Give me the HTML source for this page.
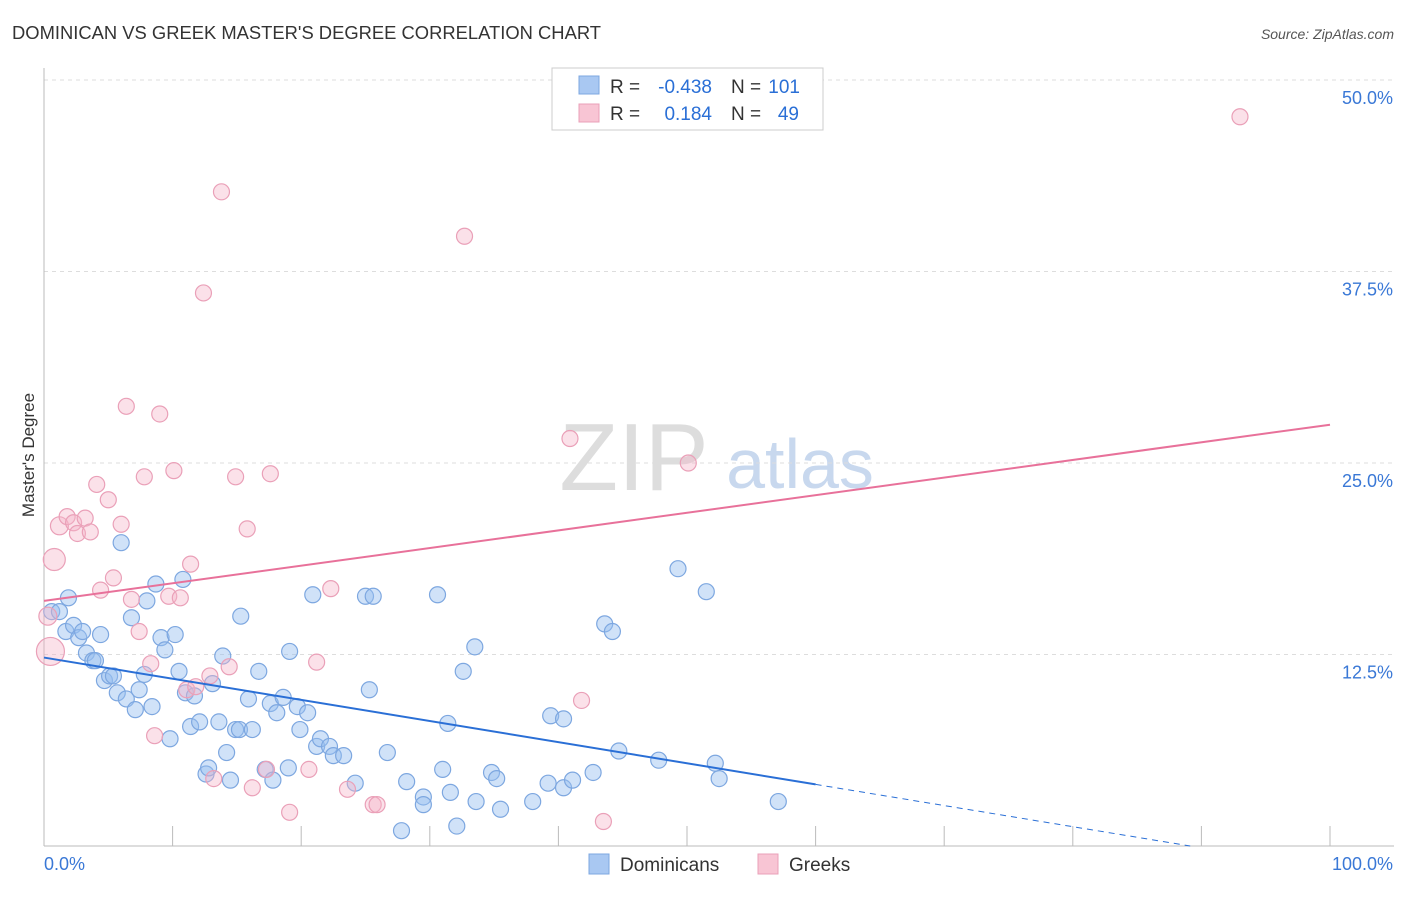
<!DOCTYPE html>
<html><head><meta charset="utf-8"><style>
body{margin:0;background:#fff;font-family:"Liberation Sans",sans-serif;}
svg text{font-family:"Liberation Sans",sans-serif;}
</style></head><body>
<svg id="chart" width="1406" height="892" xmlns="http://www.w3.org/2000/svg">
<text x="12" y="39" font-size="18" fill="#333" textLength="589" lengthAdjust="spacingAndGlyphs">DOMINICAN VS GREEK MASTER'S DEGREE CORRELATION CHART</text>
<text x="1394" y="39" font-size="14" fill="#555" font-style="italic" text-anchor="end">Source: ZipAtlas.com</text>
<g><text x="634" y="490" font-size="96" fill="#ddd" font-family="Liberation Serif" text-anchor="middle">ZIP</text><text x="800" y="488" font-size="70" fill="#c8d8ee" text-anchor="middle">atlas</text></g>
<g id="grid"></g><g id="axes"></g><g id="pts"></g><g id="trends"></g>
<text transform="translate(34,455) rotate(-90)" font-size="17" fill="#333" text-anchor="middle">Master's Degree</text>
<g>
<rect x="552" y="68" width="271" height="62" fill="#fff" stroke="#ccc"/>
<rect x="579" y="76" width="20" height="18" fill="#a9c8f2" stroke="#7da7e0"/>
<rect x="579" y="104" width="20" height="18" fill="#f8c5d4" stroke="#eaa0b8"/>
<text x="610" y="93" font-size="19" fill="#333">R =</text>
<text x="712" y="93" font-size="19" fill="#2a6fd6" text-anchor="end">-0.438</text>
<text x="731" y="93" font-size="19" fill="#333">N =</text>
<text x="800" y="93" font-size="19" fill="#2a6fd6" text-anchor="end">101</text>
<text x="610" y="120" font-size="19" fill="#333">R =</text>
<text x="712" y="120" font-size="19" fill="#2a6fd6" text-anchor="end">0.184</text>
<text x="731" y="120" font-size="19" fill="#333">N =</text>
<text x="799" y="120" font-size="19" fill="#2a6fd6" text-anchor="end">49</text>
</g>
<g>
<rect x="589" y="854" width="20" height="20" fill="#a9c8f2" stroke="#7da7e0"/>
<text x="620" y="871" font-size="19" fill="#333">Dominicans</text>
<rect x="758" y="854" width="20" height="20" fill="#f8c5d4" stroke="#eaa0b8"/>
<text x="789" y="871" font-size="19" fill="#333">Greeks</text>
</g>
</svg>
<script>
const yTicks=[12.5,25,37.5,50];
const yTickLabels=["12.5%","25.0%","37.5%","50.0%"];
const xTickCount=10;
const blueX=[0.6,1.2,1.9,1.7,2.3,2.7,3.0,3.3,3.8,4.0,4.4,4.7,5.1,5.4,5.7,6.0,6.4,6.8,7.1,7.4,7.8,8.0,8.4,8.7,9.1,9.4,9.8,10.2,10.5,10.8,11.0,11.4,11.7,12.1,12.6,12.8,13.1,13.6,13.9,14.2,14.5,14.9,15.3,15.2,15.9,16.2,16.7,17.2,17.8,17.6,18.1,18.6,19.0,19.1,19.7,19.9,20.5,20.9,21.2,21.5,22.2,22.5,23.3,24.2,25.0,25.3,25.6,26.7,27.8,28.2,29.5,29.5,30.6,31.0,31.4,31.6,32.1,32.6,33.5,33.6,34.8,35.2,35.5,38.0,39.2,39.4,40.4,40.4,41.1,42.7,43.6,44.2,44.7,47.8,49.3,51.5,52.2,52.5,57.1];
const blueY=[15.3,15.3,16.2,14.0,14.4,13.6,14.0,12.6,12.1,12.1,13.8,10.8,11.1,11.1,10.0,19.8,9.6,14.9,8.9,10.2,11.2,16.0,9.1,17.1,13.6,12.8,7.0,13.8,11.4,17.4,10.0,7.8,9.8,8.1,4.7,5.1,10.6,8.1,12.4,6.1,4.3,7.6,15.0,7.6,9.6,7.6,11.4,5.0,4.3,9.3,8.7,9.7,5.1,12.7,9.1,7.6,8.7,16.4,6.5,7.0,6.5,5.9,5.9,4.1,16.3,10.2,16.3,6.1,1.0,4.2,3.2,2.7,16.4,5.0,8.0,3.5,1.3,11.4,13.0,2.9,4.8,4.4,2.4,2.9,4.1,8.5,8.3,3.8,4.3,4.8,14.5,14.0,6.2,5.6,18.1,16.6,5.4,4.4,2.9];
const pinkX=[0.8,0.5,0.3,1.2,1.8,2.3,2.6,3.2,3.6,4.1,4.4,5.0,5.4,6.0,6.4,6.8,7.4,7.8,8.3,8.6,9.0,9.7,10.1,10.6,11.1,11.4,11.8,12.4,12.9,13.2,13.8,14.4,14.9,15.8,16.2,17.3,17.6,19.1,20.6,21.2,22.3,23.6,25.6,25.9,32.7,40.9,41.8,43.5,50.1,93.0];
const pinkY=[18.7,12.7,15.0,20.9,21.5,21.1,20.4,21.4,20.5,23.6,16.7,22.6,17.5,21.0,28.7,16.1,14.0,24.1,11.9,7.2,28.2,16.3,24.5,16.2,10.2,18.4,10.4,36.1,11.1,4.4,42.7,11.7,24.1,20.7,3.8,5.0,24.3,2.2,5.0,12.0,16.8,3.7,2.7,2.7,39.8,26.6,9.5,1.6,25.0,47.6];
const pinkR=[11,14,9,9,8,8,8,8,8,8,8,8,8,8,8,8,8,8,8,8,8,8,8,8,8,8,8,8,8,8,8,8,8,8,8,8,8,8,8,8,8,8,8,8,8,8,8,8,8,8];
const blueTrend=[12.3,-0.138];
const pinkTrend=[16.0,0.115];
const X0=44,X1=1330,Y0=846,YS=(846-80)/50;
const sx=v=>X0+(X1-X0)*v/100, sy=v=>Y0-v*YS;
const NS="http://www.w3.org/2000/svg";
function mk(t,a,p){const e=document.createElementNS(NS,t);for(const k in a)e.setAttribute(k,a[k]);document.getElementById(p).appendChild(e);return e;}
yTicks.forEach((t,i)=>{
 const g=mk('line',{x1:X0,x2:1394,y1:sy(t),y2:sy(t),stroke:'#ddd','stroke-dasharray':'4,4'},'grid');
 
 
 const l=mk('text',{x:1393,y:sy(t)+24,'font-size':18,fill:'#3a78d6','text-anchor':'end'},'axes');l.textContent=yTickLabels[i];
 
 
});
mk('line',{x1:X0,x2:X0,y1:68,y2:Y0,stroke:'#bbb'},'axes');
mk('line',{x1:X0,x2:1394,y1:Y0,y2:Y0,stroke:'#bbb'},'axes');
for(let i=0;i<=xTickCount;i++){const t=mk('line',{x1:sx(i*10),x2:sx(i*10),y1:Y0,y2:Y0-20,stroke:'#bbb'},'axes');
 
 }
let a=mk('text',{x:44,y:870,'font-size':18,fill:'#3a78d6'},'axes');a.textContent='0.0%';


a=mk('text',{x:1393,y:870,'font-size':18,fill:'#3a78d6','text-anchor':'end'},'axes');a.textContent='100.0%';


blueX.forEach((x,i)=>{const c=mk('circle',{cx:sx(x),cy:sy(blueY[i]),r:8,fill:'rgba(150,190,240,0.45)',stroke:'#7da7e0','stroke-width':1.2},'pts');
 
 });
pinkX.forEach((x,i)=>{const c=mk('circle',{cx:sx(x),cy:sy(pinkY[i]),r:pinkR[i],fill:'rgba(245,180,200,0.4)',stroke:'#eaa0b8','stroke-width':1.2},'pts');
 
 });
const bf=x=>blueTrend[0]+blueTrend[1]*x, pf=x=>pinkTrend[0]+pinkTrend[1]*x;
let l=mk('line',{x1:sx(0),y1:sy(bf(0)),x2:sx(60),y2:sy(bf(60)),stroke:'#2a6fd6','stroke-width':2},'trends');


const xe=-blueTrend[0]/blueTrend[1];
l=mk('line',{x1:sx(60),y1:sy(bf(60)),x2:sx(xe),y2:sy(0),stroke:'#2a6fd6','stroke-width':1,'stroke-dasharray':'6,5'},'trends');


l=mk('line',{x1:sx(0),y1:sy(pf(0)),x2:sx(100),y2:sy(pf(100)),stroke:'#e8719a','stroke-width':2},'trends');


</script>
</body></html>
